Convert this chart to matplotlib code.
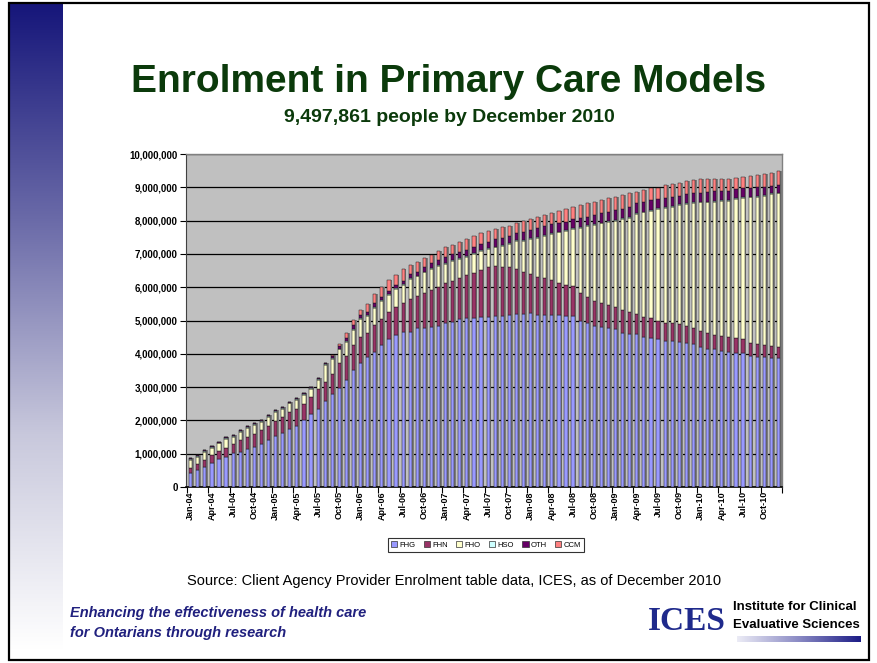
import numpy as np
import matplotlib
matplotlib.use('Agg')
import matplotlib.pyplot as plt
from matplotlib.patches import Rectangle
from matplotlib.colors import LinearSegmentedColormap

# ---------------- data (thousands of people) ----------------
months = ['Jan', 'Feb', 'Mar', 'Apr', 'May', 'Jun', 'Jul', 'Aug', 'Sep', 'Oct', 'Nov', 'Dec']
years = ['04', '05', '06', '07', '08', '09', '10']
categories = [f"{m}-{y}" for y in years for m in months]

fhg = [410, 510, 610, 710, 840, 890, 1010, 1060, 1140, 1190,
       1290, 1410, 1530, 1610, 1730, 1830, 2010, 2190, 2330, 2580,
       2780, 2980, 3210, 3510, 3730, 3890, 4050, 4260, 4430, 4560,
       4660, 4660, 4770, 4770, 4810, 4830, 4910, 4960, 5040, 5070,
       5070, 5100, 5110, 5140, 5140, 5170, 5190, 5190, 5220, 5170,
       5170, 5170, 5170, 5140, 5140, 4990, 4930, 4840, 4810, 4780,
       4730, 4630, 4600, 4580, 4510, 4480, 4430, 4390, 4370, 4360,
       4330, 4280, 4200, 4150, 4130, 4080, 4060, 4030, 4010, 3930,
       3910, 3910, 3860, 3860]
fhn = [170, 180, 200, 250, 240, 290, 280, 350, 350, 400,
       420, 420, 450, 480, 510, 500, 480, 500, 600, 580,
       600, 750, 720, 740, 770, 720, 810, 780, 820, 840,
       860, 990, 970, 1050, 1110, 1190, 1210, 1230, 1230, 1300,
       1350, 1420, 1490, 1500, 1460, 1430, 1360, 1280, 1170, 1150,
       1100, 1050, 950, 930, 900, 830, 790, 750, 710, 690,
       670, 690, 650, 620, 600, 590, 550, 540, 540, 530,
       500, 490, 480, 480, 430, 450, 430, 450, 430, 400,
       380, 350, 370, 340]
fho = [230, 220, 250, 220, 230, 260, 220, 250, 290, 270,
       250, 280, 280, 250, 270, 280, 270, 250, 280, 500,
       460, 400, 430, 460, 550, 540, 520, 560, 530, 550,
       550, 600, 590, 630, 630, 630, 580, 610, 580, 550,
       580, 580, 550, 560, 650, 700, 850, 930, 1060, 1160,
       1280, 1380, 1530, 1620, 1710, 1960, 2120, 2290, 2400, 2500,
       2600, 2730, 2830, 3000, 3140, 3230, 3370, 3450, 3510, 3580,
       3670, 3760, 3870, 3920, 4010, 4070, 4110, 4170, 4240, 4370,
       4430, 4490, 4570, 4620]
hso = [20, 20, 20, 20, 20, 20, 20, 20, 20, 20,
       20, 20, 20, 20, 20, 20, 20, 20, 20, 20,
       20, 20, 20, 20, 20, 20, 20, 20, 20, 20,
       20, 20, 20, 20, 20, 20, 20, 20, 20, 20,
       20, 20, 20, 20, 20, 20, 20, 20, 20, 20,
       20, 20, 20, 20, 20, 20, 20, 20, 20, 20,
       20, 20, 20, 20, 20, 20, 20, 20, 20, 20,
       20, 20, 20, 20, 20, 20, 20, 20, 20, 20,
       20, 20, 20, 20]
oth = [30, 30, 30, 30, 30, 30, 30, 30, 30, 30,
       30, 30, 30, 30, 30, 30, 30, 30, 30, 50,
       60, 70, 90, 130, 100, 100, 120, 80, 90, 100,
       100, 130, 120, 150, 150, 150, 200, 180, 200, 180,
       180, 180, 200, 220, 200, 220, 200, 250, 250, 270,
       270, 280, 270, 260, 270, 270, 260, 270, 280, 280,
       300, 280, 300, 300, 280, 300, 280, 290, 280, 260,
       270, 270, 270, 290, 290, 280, 280, 270, 270, 270,
       260, 250, 230, 230]
ccm = [0, 0, 0, 0, 0, 0, 0, 0, 0, 0,
       0, 0, 0, 0, 0, 0, 0, 0, 0, 0,
       40, 70, 140, 150, 140, 220, 280, 320, 330, 300,
       360, 270, 300, 250, 250, 280, 280, 270, 280, 330,
       340, 320, 320, 300, 330, 300, 320, 330, 330, 350,
       330, 340, 360, 380, 360, 400, 400, 390, 400, 400,
       400, 420, 420, 350, 370, 370, 340, 380, 380, 370,
       400, 400, 410, 390, 370, 350, 350, 330, 330, 350,
       370, 380, 370, 428]

series_names = ['FHG', 'FHN', 'FHO', 'HSO', 'OTH', 'CCM']
series_colors = ['#9999FF', '#993366', '#FFFFCC', '#CCFFFF', '#660066', '#FF8080']
y_ticks = [0, 1000, 2000, 3000, 4000, 5000, 6000, 7000, 8000, 9000, 10000]
y_ticklabels = ['0', '1,000,000', '2,000,000', '3,000,000', '4,000,000', '5,000,000',
                '6,000,000', '7,000,000', '8,000,000', '9,000,000', '10,000,000']

# ---------------- figure ----------------
W, H = 878, 663
fig = plt.figure(figsize=(W / 100, H / 100), dpi=100)
fig.patch.set_facecolor('white')


def fx(px):
    return px / W


def fy(py):
    return 1 - py / H


# background / decoration axes in pixel coords
bg = fig.add_axes([0, 0, 1, 1], zorder=-5)
bg.set_xlim(0, W)
bg.set_ylim(H, 0)
bg.axis('off')
grad_cmap = LinearSegmentedColormap.from_list('side', ['#16167a', '#6a6aa8', '#c8c8dc', '#ffffff'])
grad = np.linspace(0, 1, 256).reshape(-1, 1)
bg.imshow(grad, cmap=grad_cmap, extent=[10, 63, 650, 3], aspect='auto', zorder=1)
bg.add_patch(Rectangle((9, 3), 860, 657, fill=False, edgecolor='black', linewidth=1.6, zorder=3))

# logo gradient bar
logo_cmap = LinearSegmentedColormap.from_list('logo', ['#ececf6', '#8a8ac4', '#1c1c86'])
bg.imshow(np.linspace(0, 1, 256).reshape(1, -1), cmap=logo_cmap,
          extent=[737, 861, 642, 636], aspect='auto', zorder=2)

green = '#0b3a0b'
navy = '#20207e'
fig.text(fx(449), fy(82), 'Enrolment in Primary Care Models', ha='center', va='center',
         fontsize=28, fontweight='bold', color=green, family='Liberation Sans')
fig.text(fx(449), fy(117), '9,497,861 people by December 2010', ha='center', va='center',
         fontsize=14, fontweight='bold', color=green, family='Liberation Sans')
fig.text(fx(454), fy(581), 'Source: Client Agency Provider Enrolment table data, ICES, as of December 2010',
         ha='center', va='center', fontsize=10.5, color='black', family='Liberation Sans')
fig.text(fx(70), fy(613), 'Enhancing the effectiveness of health care', ha='left', va='center',
         fontsize=10.5, fontweight='bold', fontstyle='italic', color=navy, family='Liberation Sans')
fig.text(fx(70), fy(633), 'for Ontarians through research', ha='left', va='center',
         fontsize=10.5, fontweight='bold', fontstyle='italic', color=navy, family='Liberation Sans')
fig.text(fx(687), fy(621), 'ICES', ha='center', va='center', fontsize=24, fontweight='bold',
         color='#1f2a8c', family='Liberation Serif')
fig.text(fx(733), fy(607), 'Institute for Clinical', ha='left', va='center', fontsize=9.5,
         fontweight='bold', color='black', family='Liberation Sans')
fig.text(fx(733), fy(625), 'Evaluative Sciences', ha='left', va='center', fontsize=9.5,
         fontweight='bold', color='black', family='Liberation Sans')

# ---------------- chart ----------------
ax = fig.add_axes([fx(186), fy(487), fx(782) - fx(186), fy(154) - fy(487)])
ax.set_facecolor('#C0C0C0')
n = len(categories)
x = np.arange(n)
data = [np.array(s, dtype=float) for s in (fhg, fhn, fho, hso, oth, ccm)]
total = np.sum(data, axis=0)

bw = 0.45
ax.bar(x + 0.25, total, width=bw, color='#7b7b7b', linewidth=0, zorder=2)
bottom = np.zeros(n)
for vals, col, name in zip(data, series_colors, series_names):
    ax.bar(x, vals, bottom=bottom, width=bw, color=col, edgecolor='#1a1a1a',
           linewidth=0.35, zorder=3, label=name)
    bottom += vals

ax.set_xlim(-0.66, n - 0.58)
ax.set_ylim(0, 10000)
ax.set_yticks(y_ticks)
ax.set_yticklabels(y_ticklabels, fontsize=7, fontweight='bold', family='Liberation Sans')
ax.yaxis.grid(True, color='black', linewidth=0.9, zorder=1)
ax.set_axisbelow(True)

label_pos = x[::3]
ax.set_xticks(np.arange(-0.5, n + 0.5, 3))
ax.set_xticklabels([])
ax.set_xticks(label_pos, minor=True)
ax.set_xticklabels([categories[i] for i in label_pos], minor=True, rotation=90,
                   fontsize=6.5, fontweight='bold', family='Liberation Sans', va='top', ha='center')
ax.tick_params(axis='x', which='major', length=4, width=0.8, direction='out', color='black')
ax.tick_params(axis='x', which='minor', length=0, pad=3)
ax.tick_params(axis='y', length=4, width=0.8, direction='out', pad=2, color='black')

for side in ('top', 'right'):
    ax.spines[side].set_color('#808080')
    ax.spines[side].set_linewidth(1.0)
ax.spines['left'].set_color('#404040')
ax.spines['bottom'].set_color('black')
ax.spines['bottom'].set_linewidth(1.2)

leg = fig.legend(loc='center', bbox_to_anchor=(fx(486), fy(545)), ncol=6, fontsize=5.5,
                 frameon=True, fancybox=False, edgecolor='black', handlelength=0.8,
                 handleheight=0.8, handletextpad=0.3, columnspacing=1.1, borderpad=0.4,
                 prop={'family': 'Liberation Sans', 'size': 5.5})
leg.get_frame().set_linewidth(0.8)
for h in leg.legend_handles:
    h.set_edgecolor('#333333')
    h.set_linewidth(0.5)

fig.savefig('out.png', dpi=100)
